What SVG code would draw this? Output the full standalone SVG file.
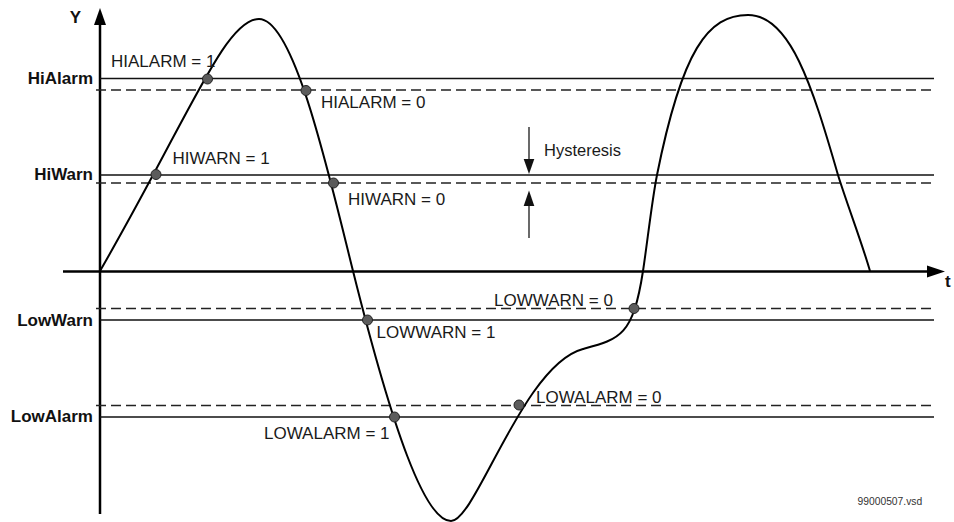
<svg xmlns="http://www.w3.org/2000/svg" width="954" height="522" viewBox="0 0 954 522">
<style>
  .lbl { font-family: "Liberation Sans", Arial, sans-serif; font-size: 17px; fill: #1a1a1a; }
  .axl { font-family: "Liberation Sans", Arial, sans-serif; font-size: 17px; font-weight: bold; fill: #111; }
  .solid { stroke: #111; stroke-width: 1.3; fill: none; }
  .dash { stroke: #222; stroke-width: 1.3; fill: none; stroke-dasharray: 10 5; }
  .dot { fill: #5c5c5c; stroke: #222; stroke-width: 1; }
  .axis { stroke: #000; stroke-width: 2.5; fill: none; }
  .hyst { stroke: #444; stroke-width: 1.6; fill: none; }
</style>
<rect width="954" height="522" fill="#fff"/>

<g id="axes">
  <line class="axis" x1="100" y1="22" x2="100" y2="514"/>
  <polygon points="100,8 94,25 106,25" fill="#000"/>
  <line class="axis" x1="63" y1="271.5" x2="930" y2="271.5"/>
  <polygon points="945,271.5 927,265.5 927,277.5" fill="#000"/>
  <text class="axl" x="75.5" y="23" text-anchor="middle">Y</text>
  <text class="axl" x="945" y="287">t</text>
</g>

<g id="thresholds">
  <line class="solid" x1="100" y1="78.5" x2="934" y2="78.5"/>
  <line class="dash" x1="96" y1="90" x2="934" y2="90"/>
  <line class="solid" x1="100" y1="175" x2="934" y2="175"/>
  <line class="dash" x1="96" y1="183" x2="934" y2="183"/>
  <line class="dash" x1="96" y1="308.5" x2="934" y2="308.5"/>
  <line class="solid" x1="100" y1="320" x2="934" y2="320"/>
  <line class="dash" x1="96" y1="405.5" x2="934" y2="405.5"/>
  <line class="solid" x1="100" y1="417" x2="934" y2="417"/>
  <text class="axl" x="93" y="84" text-anchor="end">HiAlarm</text>
  <text class="axl" x="93" y="180" text-anchor="end">HiWarn</text>
  <text class="axl" x="93" y="325.5" text-anchor="end">LowWarn</text>
  <text class="axl" x="93" y="422" text-anchor="end">LowAlarm</text>
</g>

<g id="signal">
  <path fill="none" stroke="#000" stroke-width="2" d="M100,271 C190,115 225,19 259,19 C294,19 328,171 353,271 C393,431 425,521 451,521 C476,521 523,365 583,349 C620,339 633,336 643,271 C647,245 652,200 657,175 C682,50 708,15 748,15 C790,15 812,85 838,175 C848,207 861,240 870,271"/>
</g>

<g id="crossings">
  <circle class="dot" cx="156" cy="174.5" r="5"/>
  <circle class="dot" cx="207.5" cy="79" r="5"/>
  <circle class="dot" cx="306" cy="90.5" r="5"/>
  <circle class="dot" cx="333.5" cy="183" r="5"/>
  <circle class="dot" cx="367.5" cy="320" r="5"/>
  <circle class="dot" cx="394.5" cy="417" r="5"/>
  <circle class="dot" cx="519" cy="405" r="5"/>
  <circle class="dot" cx="634" cy="308.5" r="5"/>
</g>

<g id="labels">
  <text class="lbl" x="111" y="67">HIALARM = 1</text>
  <text class="lbl" x="321" y="108">HIALARM = 0</text>
  <text class="lbl" x="172.5" y="164">HIWARN = 1</text>
  <text class="lbl" x="348" y="205">HIWARN = 0</text>
  <text class="lbl" x="376.5" y="337.5">LOWWARN = 1</text>
  <text class="lbl" x="494" y="305.5">LOWWARN = 0</text>
  <text class="lbl" x="264" y="439">LOWALARM = 1</text>
  <text class="lbl" x="536" y="402.5">LOWALARM = 0</text>
</g>

<g id="hysteresis">
  <line class="hyst" x1="529" y1="127" x2="529" y2="162"/>
  <polygon points="529,174 523.7,159 534.3,159" fill="#111"/>
  <line class="hyst" x1="529" y1="238" x2="529" y2="203"/>
  <polygon points="529,190.5 523.7,206 534.3,206" fill="#111"/>
  <text class="lbl" x="544" y="156" style="font-size:16.5px">Hysteresis</text>
</g>

<text id="filename" x="857.5" y="505" style="font-family:'Liberation Sans',Arial,sans-serif;font-size:10.3px;fill:#333">99000507.vsd</text>
</svg>
